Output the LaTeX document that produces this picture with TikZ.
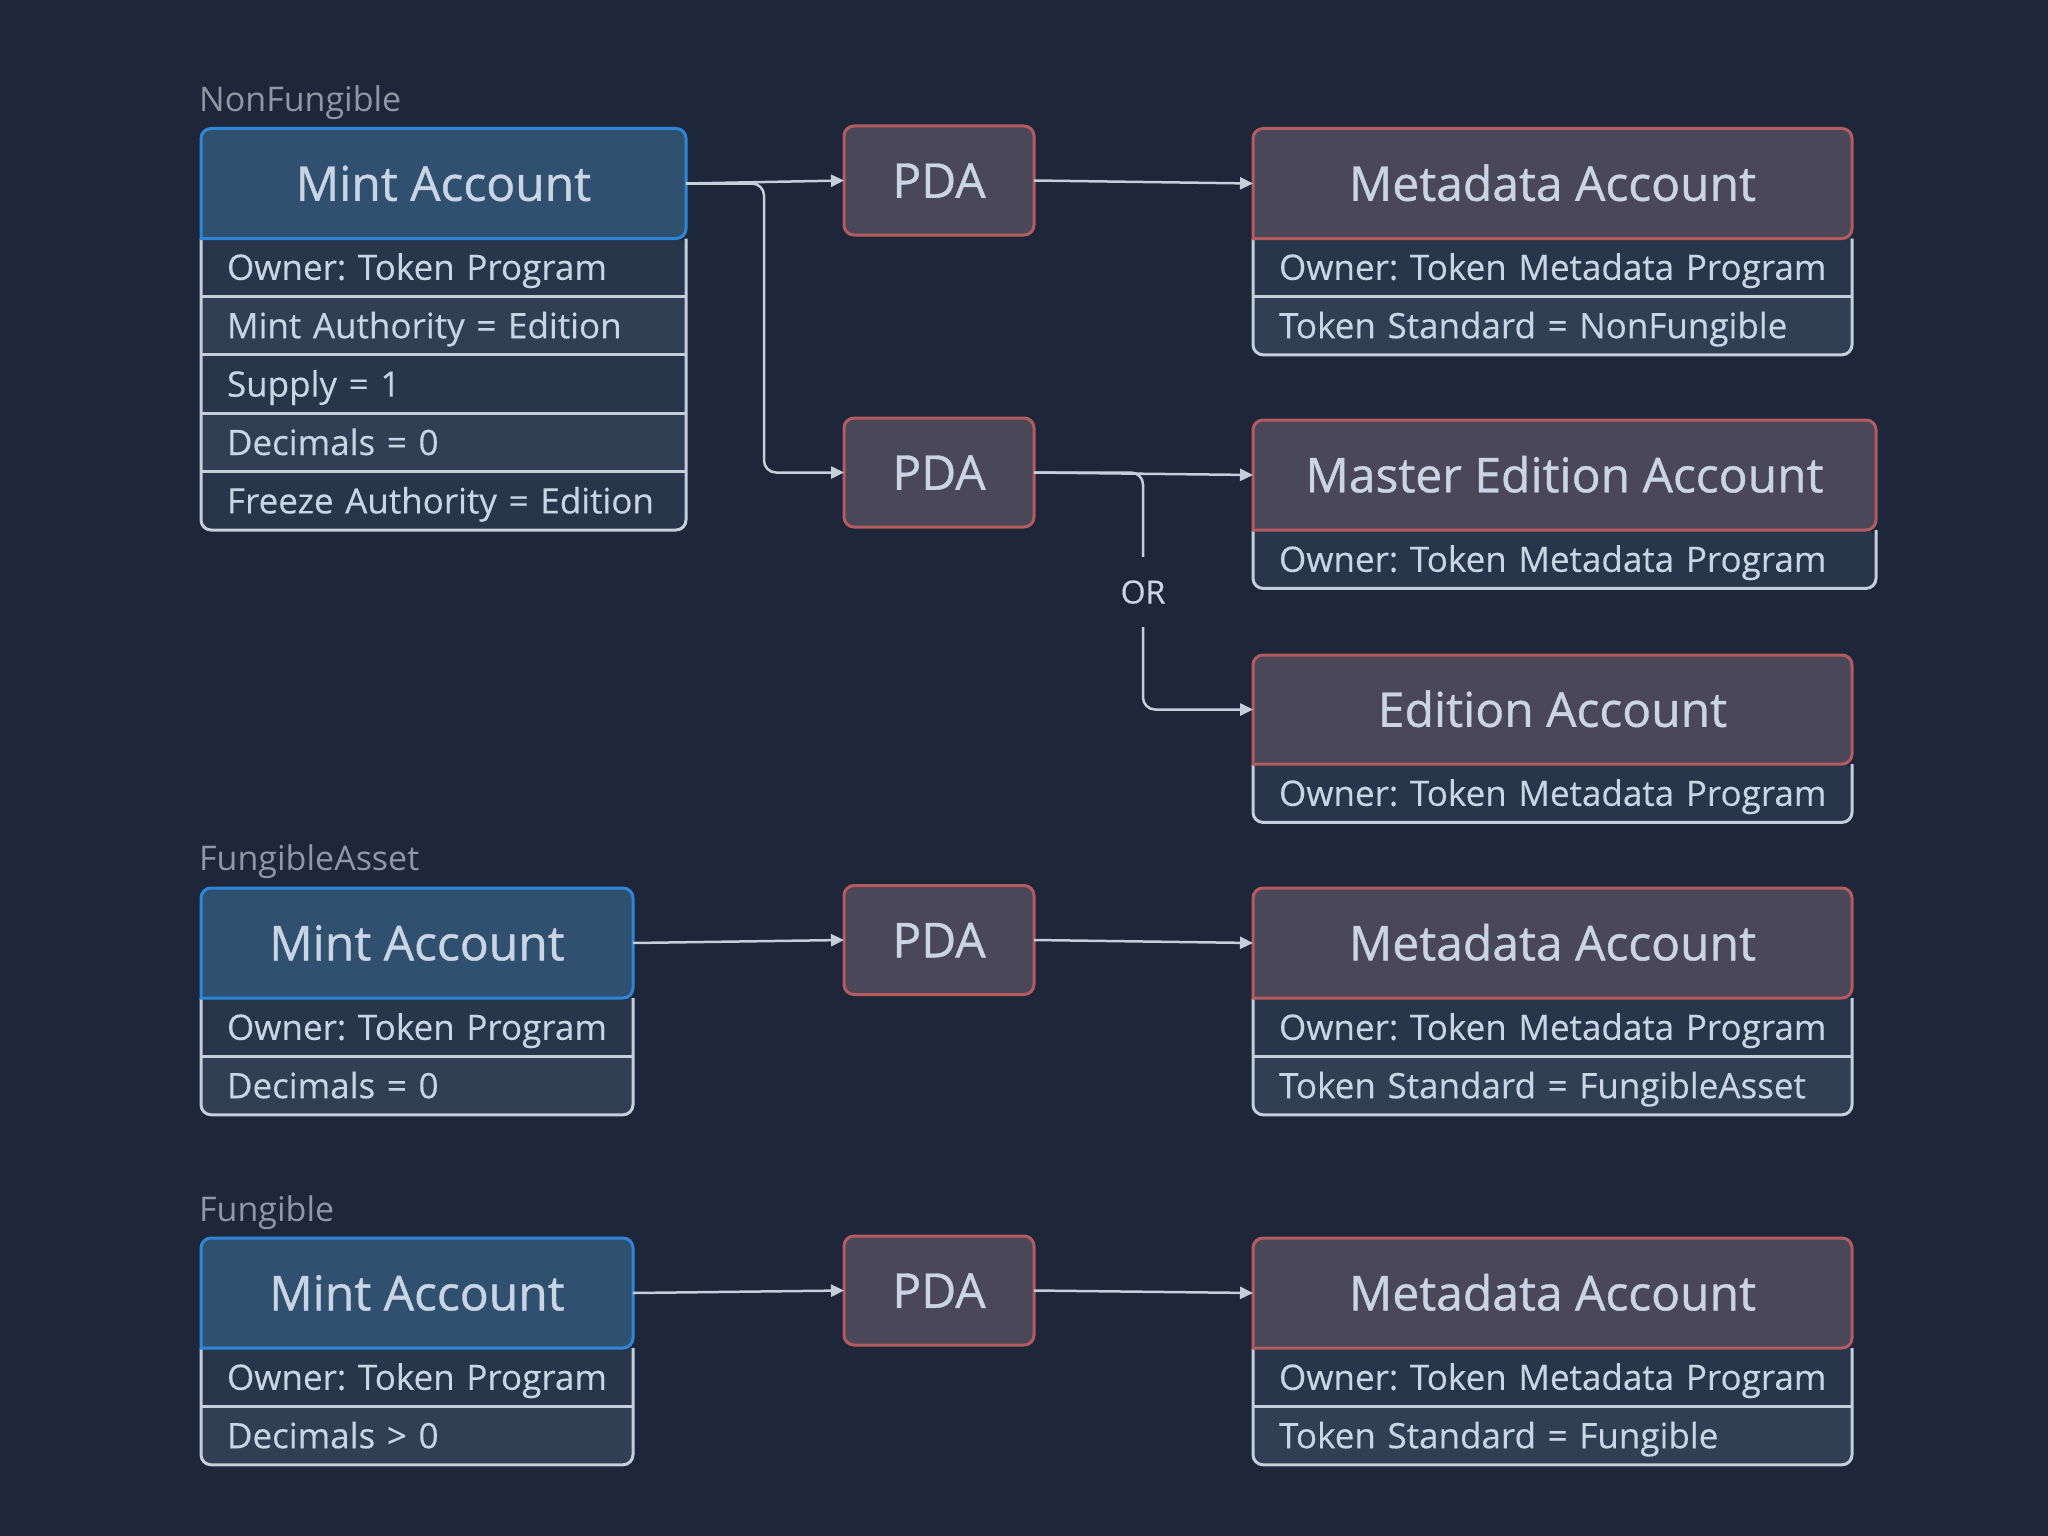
\documentclass[tikz,border=0pt]{standalone}
\usepackage{fontspec}
\setmainfont{Open Sans}
\newfontfamily\headfont[FakeBold=0.8]{Open Sans}
\newfontfamily\rowfont[FakeBold=0.3]{Open Sans}
\usetikzlibrary{arrows.meta}
\pgfdeclarelayer{back}
\pgfsetlayers{back,main}

\definecolor{bgcol}{HTML}{1E2739}
\definecolor{mintfill}{HTML}{30506F}
\definecolor{mintline}{HTML}{2F86D9}
\definecolor{pdafill}{HTML}{4A4758}
\definecolor{pdaline}{HTML}{B35B5E}
\definecolor{rowdark}{HTML}{29354A}
\definecolor{rowlite}{HTML}{313F54}
\definecolor{rowline}{HTML}{C5CEDB}
\definecolor{txt}{HTML}{C9D4E4}
\definecolor{grp}{HTML}{8E97A6}

\tikzset{
  head/.style={inner sep=0pt, outer sep=0pt, minimum height=110pt, text=txt,
    font=\headfont\fontsize{48}{52}\selectfont, text height=38.4pt, text depth=3.8pt},
  pda/.style={head, minimum width=190pt, minimum height=109pt, rounded corners=10pt,
    draw=pdaline, fill=pdafill, line width=3pt},
  row/.style={anchor=west, inner xsep=26pt, inner ysep=0pt, outer sep=0pt,
    minimum height=58.4pt, text width=640pt, align=left, text=txt,
    font=\rowfont\fontsize{35}{39}\selectfont, text height=28pt, text depth=2.8pt},
  grplabel/.style={anchor=base west, inner sep=0pt, text=grp,
    font=\fontsize{34}{38}\selectfont},
  orlabel/.style={inner sep=0pt, minimum height=70pt, text=txt,
    font=\rowfont\fontsize{32}{36}\selectfont, text height=25.6pt, text depth=2.6pt},
  border/.style={line width=3pt},
  link/.style={draw=rowline, line width=2.5pt},
  conn/.style={link, -{Triangle[length=13pt,width=12pt]}},
}

\begin{document}
\frenchspacing
\begin{tikzpicture}[x=1pt,y=-1pt]
  \begin{pgfonlayer}{back}
    \fill[bgcol] (0,0) rectangle (2048,1536);
  \end{pgfonlayer}

  % NonFungible
  \draw (199,112) node[grplabel] (g1) {NonFungible};
  \draw (443.5,183.5) node[head, minimum width=485pt] (mint1) {Mint Account};
  \draw (201,267.2) node[row] (mint1r1) {Owner: Token Program};
  \draw (201,325.6) node[row] (mint1r2) {Mint Authority = Edition};
  \draw (201,384.0) node[row] (mint1r3) {Supply = 1};
  \draw (201,442.4) node[row] (mint1r4) {Decimals = 0};
  \draw (201,500.8) node[row] (mint1r5) {Freeze Authority = Edition};

  \draw (939,180.5) node[pda] (pda1) {PDA};
  \draw (1552.5,183.5) node[head, minimum width=599pt] (meta1) {Metadata Account};
  \draw (1253,267.2) node[row] (meta1r1) {Owner: Token Metadata Program};
  \draw (1253,325.6) node[row] (meta1r2) {Token Standard = NonFungible};

  \draw (939,472.5) node[pda] (pda2) {PDA};
  \draw (1564.5,475) node[head, minimum width=623pt] (master) {Master Edition Account};
  \draw (1253,559.2) node[row] (masterr1) {Owner: Token Metadata Program};

  \draw (1143,592) node[orlabel] (or) {OR};
  \draw (1552.5,709.5) node[head, minimum width=599pt, minimum height=109pt] (edition) {Edition Account};
  \draw (1253,793.2) node[row] (editionr1) {Owner: Token Metadata Program};

  % FungibleAsset
  \draw (199,870) node[grplabel] (g2) {FungibleAsset};
  \draw (417,943) node[head, minimum width=432pt] (mint2) {Mint Account};
  \draw (201,1027.2) node[row] (mint2r1) {Owner: Token Program};
  \draw (201,1085.6) node[row] (mint2r2) {Decimals = 0};

  \draw (939,940) node[pda] (pda3) {PDA};
  \draw (1552.5,943) node[head, minimum width=599pt] (meta2) {Metadata Account};
  \draw (1253,1027.2) node[row] (meta2r1) {Owner: Token Metadata Program};
  \draw (1253,1085.6) node[row] (meta2r2) {Token Standard = FungibleAsset};

  % Fungible
  \draw (199,1221) node[grplabel] (g3) {Fungible};
  \draw (417,1293) node[head, minimum width=432pt] (mint3) {Mint Account};
  \draw (201,1377.2) node[row] (mint3r1) {Owner: Token Program};
  \draw (201,1435.6) node[row] (mint3r2) {Decimals > 0};

  \draw (939,1290.5) node[pda] (pda4) {PDA};
  \draw (1552.5,1293) node[head, minimum width=599pt] (meta3) {Metadata Account};
  \draw (1253,1377.2) node[row] (meta3r1) {Owner: Token Metadata Program};
  \draw (1253,1435.6) node[row] (meta3r2) {Token Standard = Fungible};

  % box fills
  \begin{pgfonlayer}{back}
    \foreach \b/\e/\c in {mint1/mint1r5/rowdark, meta1/meta1r2/rowlite, master/masterr1/rowdark,
        edition/editionr1/rowdark, mint2/mint2r2/rowlite, meta2/meta2r2/rowlite,
        mint3/mint3r2/rowlite, meta3/meta3r2/rowlite}
      \fill[\c] (\b.south west) [rounded corners=10pt] -- (\e.south west)
        -- (\e.south west -| \b.east) -- (\b.south east) [sharp corners] -- cycle;
    \foreach \r/\b/\c in {mint1r2/mint1/rowlite, mint1r4/mint1/rowlite, meta1r1/meta1/rowdark,
        mint2r1/mint2/rowdark, meta2r1/meta2/rowdark, mint3r1/mint3/rowdark, meta3r1/meta3/rowdark}
      \fill[\c] (\r.north west) rectangle (\r.south west -| \b.east);
    \foreach \b/\c in {mint1/mintfill, mint2/mintfill, mint3/mintfill, meta1/pdafill,
        master/pdafill, edition/pdafill, meta2/pdafill, meta3/pdafill}
      \fill[\c] (\b.south west) [rounded corners=10pt] -- (\b.north west)
        -- (\b.north east) -- (\b.south east) [sharp corners] -- cycle;
  \end{pgfonlayer}

  % box borders
  \foreach \b/\e in {mint1/mint1r5, meta1/meta1r2, master/masterr1, edition/editionr1,
      mint2/mint2r2, meta2/meta2r2, mint3/mint3r2, meta3/meta3r2}
    \draw[border, rowline] (\b.south west) [rounded corners=10pt] -- (\e.south west)
      -- (\e.south west -| \b.east) -- (\b.south east);
  \foreach \r/\b in {mint1r1/mint1, mint1r2/mint1, mint1r3/mint1, mint1r4/mint1, meta1r1/meta1,
      mint2r1/mint2, meta2r1/meta2, mint3r1/mint3, meta3r1/meta3}
    \draw[border, rowline] (\r.south west) -- (\r.south west -| \b.east);
  \foreach \b/\c in {mint1/mintline, mint2/mintline, mint3/mintline, meta1/pdaline,
      master/pdaline, edition/pdaline, meta2/pdaline, meta3/pdaline}
    \draw[border, \c] (\b.south west) [rounded corners=10pt] -- (\b.north west)
      -- (\b.north east) -- (\b.south east) [sharp corners] -- cycle;

  % links
  \draw[conn] (mint1.east) -- (pda1.west);
  \draw[conn, rounded corners=12pt] (mint1.east) -| ([xshift=-80pt]pda2.west) -- (pda2.west);
  \draw[conn] (pda1.east) -- (meta1.west);
  \draw[conn] (pda2.east) -- (master.west);
  \draw[link, rounded corners=12pt] (pda2.east) -| (or.north);
  \draw[conn, rounded corners=12pt] (or.south) |- (edition.west);

  \draw[conn] (mint2.east) -- (pda3.west);
  \draw[conn] (pda3.east) -- (meta2.west);
  \draw[conn] (mint3.east) -- (pda4.west);
  \draw[conn] (pda4.east) -- (meta3.west);
\end{tikzpicture}
\end{document}
